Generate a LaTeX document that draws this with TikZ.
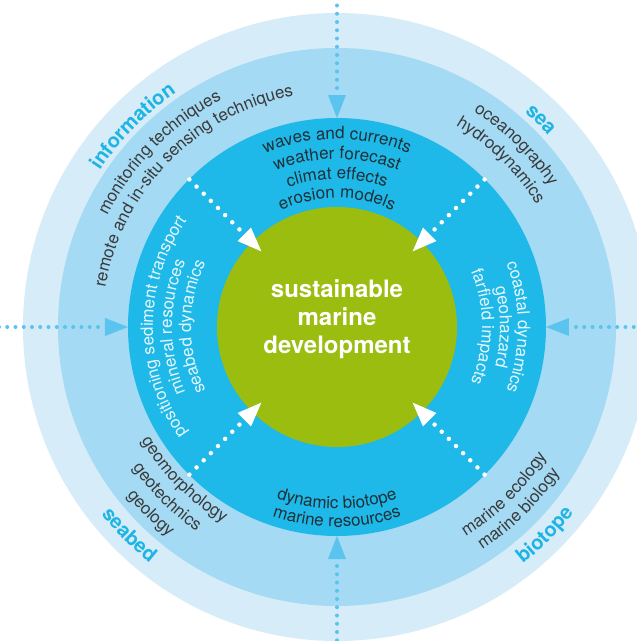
\documentclass[tikz,border=0pt]{standalone}
\usepackage{fontspec}
\setmainfont{TeX Gyre Heros}
\usetikzlibrary{decorations.text}
\definecolor{ringA}{HTML}{D6ECF8}
\definecolor{ringB}{HTML}{A4DAF3}
\definecolor{ringC}{HTML}{1EB9E8}
\definecolor{corecol}{HTML}{9BBD10}
\definecolor{labelcol}{HTML}{1EB4E6}
\definecolor{outarrow}{HTML}{5BC4EE}
\definecolor{dk}{HTML}{3A3A3A}
\definecolor{dkb}{HTML}{1E3038}
\definecolor{lt}{HTML}{E6F7FD}
\newcommand\rfont{\fontsize{17}{19}\selectfont}
\newcommand\lfont{\fontsize{20}{22}\selectfont\bfseries}
\newcommand\CWtext[4]{\path[decorate,decoration={text along path,text align=center,text={|#3|#4}}] ({#1+85}:#2pt) arc[start angle={#1+85},end angle={#1-85},radius=#2pt];}
\newcommand\CCWtext[4]{\path[decorate,decoration={text along path,text align=center,text={|#3|#4}}] ({#1-85}:#2pt) arc[start angle={#1-85},end angle={#1+85},radius=#2pt];}
\tikzset{
  outdots/.style={draw=outarrow,line width=4pt,line cap=round,dash pattern=on 0pt off 8.25pt},
  indots/.style={draw=white,line width=4.5pt,line cap=round,dash pattern=on 0pt off 10.1pt},
  ctext/.style={text=white,font=\fontsize{24}{28}\selectfont\bfseries,inner sep=0pt,anchor=base}
}
\begin{document}
\begin{tikzpicture}[x=1pt,y=1pt]
\useasboundingbox (-337,-314) rectangle (300,327);
\clip (-337,-314) rectangle (300,327);
\fill[white] (-337,-314) rectangle (300,327);
\fill[ringA] (0,0) circle[radius=314pt];
\fill[ringB] (0,0) circle[radius=279pt];
\fill[ringC] (0,0) circle[radius=209pt];
\node[circle,fill=corecol,minimum size=240pt,inner sep=0pt] (core) at (0,0) {};
% outer arrows
\foreach \a in {0,90,180,270}{
  \coordinate (oa\a) at (\a:239pt);
  \coordinate (ob\a) at (\a:345pt);
  \draw[outdots] (oa\a) -- (ob\a);
  \fill[outarrow,rotate=\a] (209,0) -- (232,9) -- (232,-9) -- cycle;
}
% inner arrows
\foreach \a in {45,135,225,315}{
  \coordinate (ia\a) at (\a:138pt);
  \coordinate (ib\a) at (\a:209pt);
  \draw[indots] (ia\a) -- (ib\a);
  \fill[white,rotate=\a] (107,0) -- (131,9.5) -- (131,-9.5) -- cycle;
}
% outer ring texts
\CWtext{135.5}{284}{\lfont\color{labelcol}}{information}
\CWtext{135.5}{255}{\rfont\color{dk}}{monitoring techniques}
\CWtext{135.5}{235}{\rfont\color{dk}}{remote and in-situ sensing techniques}
\CWtext{45.5}{285}{\lfont\color{labelcol}}{sea}
\CWtext{45.5}{255}{\rfont\color{dk}}{oceanography}
\CWtext{45.5}{234}{\rfont\color{dk}}{hydrodynamics}
\CCWtext{225}{301}{\lfont\color{labelcol}}{seabed}
\CCWtext{225}{226}{\rfont\color{dk}}{geomorphology}
\CCWtext{225}{248}{\rfont\color{dk}}{geotechnics}
\CCWtext{225}{269}{\rfont\color{dk}}{geology}
\CCWtext{-45}{301}{\lfont\color{labelcol}}{biotope}
\CCWtext{-45}{246}{\rfont\color{dk}}{marine ecology}
\CCWtext{-45}{266}{\rfont\color{dk}}{marine biology}
% inner ring texts
\CWtext{90}{188}{\rfont\color{dkb}}{waves and currents}
\CWtext{90}{168}{\rfont\color{dkb}}{weather forecast}
\CWtext{90}{148}{\rfont\color{dkb}}{climat effects}
\CWtext{90}{129}{\rfont\color{dkb}}{erosion models}
\CWtext{0}{181}{\rfont\color{lt}}{coastal dynamics}
\CWtext{0}{163}{\rfont\color{lt}}{geohazard}
\CWtext{0}{145}{\rfont\color{lt}}{farfield impacts}
\CWtext{180}{184}{\rfont\color{lt}}{positioning sediment transport}
\CWtext{180}{165}{\rfont\color{lt}}{mineral resources}
\CWtext{180}{146}{\rfont\color{lt}}{seabed dynamics}
\CCWtext{270}{182}{\rfont\color{dkb}}{dynamic biotope}
\CCWtext{270}{200}{\rfont\color{dkb}}{marine resources}
% centre
\node[ctext] (c1) at (0,30) {sustainable};
\node[ctext] (c2) at (0,2) {marine};
\node[ctext] (c3) at (0,-26) {development};
\end{tikzpicture}
\end{document}
